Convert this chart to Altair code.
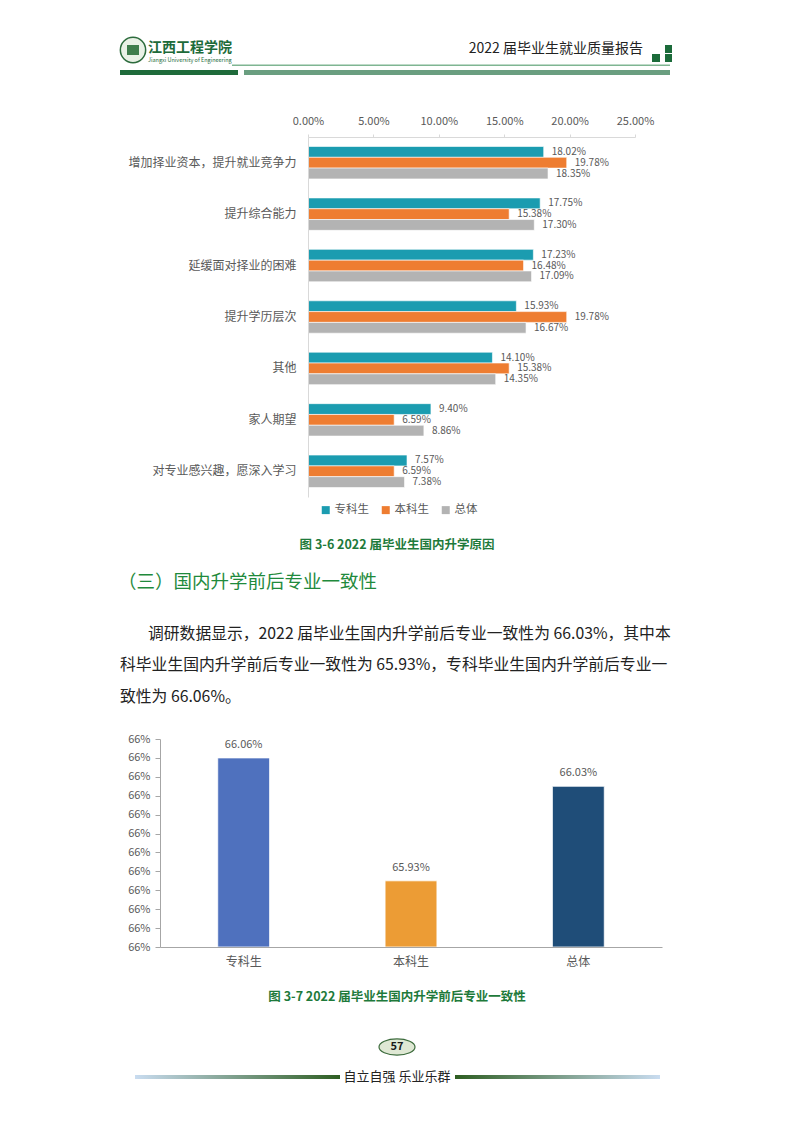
import altair as alt
import pandas as pd

FONT = "Noto Sans CJK SC"

# ---------------- data ----------------
reasons = ["增加择业资本，提升就业竞争力", "提升综合能力", "延缓面对择业的困难",
           "提升学历层次", "其他", "家人期望", "对专业感兴趣，愿深入学习"]
series = ["专科生", "本科生", "总体"]
zk_values = [18.02, 17.75, 17.23, 15.93, 14.10, 9.40, 7.57]
bk_values = [19.78, 15.38, 16.48, 19.78, 15.38, 6.59, 6.59]
zt_values = [18.35, 17.30, 17.09, 16.67, 14.35, 8.86, 7.38]
series_colors = ["#1b9cb0", "#ee7d31", "#b3b3b3"]
x_ticks = [0, 5, 10, 15, 20, 25]

groups = ["专科生", "本科生", "总体"]
consistency = [66.06, 65.93, 66.03]
group_colors = ["#4f71be", "#ec9c35", "#1f4d78"]
y_ticks = [65.86, 65.88, 65.90, 65.92, 65.94, 65.96, 65.98, 66.00, 66.02, 66.04, 66.06, 66.08]

rows = []
for vals, s in zip([zk_values, bk_values, zt_values], series):
    for r, v in zip(reasons, vals):
        rows.append({"reason": r, "series": s, "value": v})
df_reason = pd.DataFrame(rows)
df_cons = pd.DataFrame({"group": groups, "value": consistency})

one = pd.DataFrame({"k": [0]})
W, H = 777, 1106   # whole page minus the 8px margin; page coordinate = local + 8


def label(text, x, y, size, color, weight="normal", align="left", baseline="middle"):
    return alt.Chart(one).mark_text(
        text=text, fontSize=size, color=color, fontWeight=weight,
        align=align, baseline=baseline, font=FONT
    ).encode(x=alt.value(x), y=alt.value(y))


def box(x0, x1, y0, y1, color):
    return alt.Chart(one).mark_rect(color=color).encode(
        x=alt.value(x0), x2=alt.value(x1), y=alt.value(y0), y2=alt.value(y1))


# ---------------- header ----------------
header = [
    alt.Chart(one).mark_point(shape="circle", filled=True, fill="#e9f1e6", stroke="#2c6b3c",
                              strokeWidth=1.5, size=640, opacity=1).encode(
        x=alt.value(125), y=alt.value(42)),
    box(119, 131, 37, 47, "#3f7d4c"),
    label("江西工程学院", 140, 40, 14, "#1d6b3a", weight="bold"),
    label("Jiangxi University of Engineering", 140, 52, 5.5, "#1d6b3a"),
    label("2022 届毕业生就业质量报告", 635, 41, 14, "#222222", align="right"),
    box(657, 664, 37, 45, "#1b6b3a"),
    box(644, 652, 46, 54, "#1b6b3a"),
    box(657, 664, 46, 54, "#1b6b3a"),
    box(224, 662, 56.5, 58, "#7fb592"),
    box(112, 230, 62, 67, "#1f6b3b"),
    box(236, 662, 62, 67, "#6a9e80"),
]

# ---------------- chart 1 : reasons ----------------
X1, X1e, Y1, Y1e = 300, 627, 129, 489
base1 = alt.Chart(df_reason).encode(
    y=alt.Y("reason:N", sort=reasons,
            scale=alt.Scale(paddingInner=0.37, paddingOuter=0.185, range=[Y1, Y1e]),
            axis=alt.Axis(orient="left", offset=-X1, title=None, ticks=False,
                          domainColor="#d9d9d9", labelPadding=12, zindex=1,
                          labelFontSize=12, labelColor="#595959", labelFont=FONT,
                          labelLimit=300)),
    x=alt.X("value:Q", scale=alt.Scale(domain=[0, 25], range=[X1, X1e]),
            axis=alt.Axis(orient="top", offset=-Y1, values=x_ticks, title=None, grid=False,
                          labelExpr="format(datum.value/100,'.2%')", zindex=1,
                          labelFlush=False, labelOverlap=False,
                          domainColor="#d9d9d9", tickColor="#d9d9d9", tickSize=3,
                          labelPadding=8, labelFontSize=11, labelColor="#595959",
                          labelFont=FONT)),
    yOffset=alt.YOffset("series:N", sort=series),
)
bars1 = base1.mark_bar(stroke="white", strokeWidth=0.6).encode(
    color=alt.Color("series:N", sort=series,
                    scale=alt.Scale(domain=series, range=series_colors),
                    legend=alt.Legend(orient="none", legendX=312, legendY=496,
                                      direction="horizontal", title=None,
                                      symbolType="square", symbolSize=64,
                                      symbolStrokeWidth=0, labelFontSize=11.5,
                                      labelColor="#595959", labelFont=FONT,
                                      columnPadding=11, labelOffset=3)))
text1 = base1.mark_text(align="left", baseline="middle", dx=8, fontSize=10,
                        color="#595959", font=FONT).transform_calculate(
    lbl="format(datum.value/100,'.2%')").encode(text="lbl:N")
chart1 = alt.layer(bars1, text1)

# ---------------- text block ----------------
green = "#1e7a3b"
body = "#222222"
texts = [
    label("图 3-6 2022 届毕业生国内升学原因", 389, 537, 12.5, green, weight="bold", align="center"),
    label("（三）国内升学前后专业一致性", 110, 574, 18.5, "#1f8a3c"),
    label("调研数据显示，2022 届毕业生国内升学前后专业一致性为 66.03%，其中本", 140, 626, 15.8, body),
    label("科毕业生国内升学前后专业一致性为 65.93%，专科毕业生国内升学前后专业一", 112, 657, 15.8, body),
    label("致性为 66.06%。", 112, 689, 15.8, body),
]

# ---------------- chart 3 : consistency ----------------
X3, X3e, Y3, Y3e = 152, 654, 731, 939
base3 = alt.Chart(df_cons).encode(
    x=alt.X("group:N", sort=groups,
            scale=alt.Scale(paddingInner=0.69, paddingOuter=0.345, range=[X3, X3e]),
            axis=alt.Axis(orient="bottom", offset=Y3e - H, title=None, ticks=False,
                          labelAngle=0, domainColor="#a6a6a6", zindex=1,
                          labelPadding=9, labelFontSize=12, labelColor="#595959",
                          labelFont=FONT)),
    y=alt.Y("value:Q", scale=alt.Scale(domain=[65.86, 66.08], zero=False, nice=False,
                                       range=[Y3e, Y3]),
            axis=alt.Axis(orient="left", offset=-X3, title=None, values=y_ticks, grid=False,
                          labelExpr="format(datum.value/100,'.0%')", zindex=1,
                          labelFlush=False, labelOverlap=False,
                          domainColor="#a6a6a6", tickColor="#a6a6a6", tickSize=5,
                          labelPadding=5, labelFontSize=11, labelColor="#595959",
                          labelFont=FONT)),
)
bars3 = base3.mark_bar(stroke="white", strokeWidth=0.8).encode(
    y2=alt.datum(65.86),
    color=alt.Color("group:N", sort=groups,
                    scale=alt.Scale(domain=groups, range=group_colors), legend=None))
text3 = base3.mark_text(baseline="middle", dy=-13, fontSize=11, color="#595959",
                        font=FONT).transform_calculate(
    lbl="format(datum.value/100,'.2%')").encode(text="lbl:N")
chart3 = alt.layer(bars3, text3)

# ---------------- footer ----------------
grad_l = alt.LinearGradient(gradient="linear", x1=0, x2=1, y1=0, y2=0,
                            stops=[alt.GradientStop(color="#c9dcf0", offset=0),
                                   alt.GradientStop(color="#2e5e22", offset=1)])
grad_r = alt.LinearGradient(gradient="linear", x1=0, x2=1, y1=0, y2=0,
                            stops=[alt.GradientStop(color="#2e5e22", offset=0),
                                   alt.GradientStop(color="#c9dcf0", offset=1)])
oval = "M -1 0 A 1 0.45 0 1 1 1 0 A 1 0.45 0 1 1 -1 0 Z"
footer = [
    label("图 3-7 2022 届毕业生国内升学前后专业一致性", 389, 989, 12.5, green, weight="bold", align="center"),
    alt.Chart(one).mark_point(shape=oval, filled=True, fill="#dfe8d4", stroke="#3c6b3c",
                              strokeWidth=1.2, size=1296, opacity=1).encode(
        x=alt.value(389), y=alt.value(1039)),
    label("57", 389, 1039, 11, "#1a1a1a", weight="bold", align="center"),
    alt.Chart(one).mark_rect(fill=grad_l).encode(
        x=alt.value(127), x2=alt.value(332), y=alt.value(1067), y2=alt.value(1071)),
    alt.Chart(one).mark_rect(fill=grad_r).encode(
        x=alt.value(447), x2=alt.value(652), y=alt.value(1067), y2=alt.value(1071)),
    label("自立自强  乐业乐群", 389, 1069, 13, "#222222", align="center"),
]

chart = alt.layer(
    *header, chart1, *texts, chart3, *footer
).resolve_scale(
    x="independent", y="independent", color="independent", yOffset="independent"
).resolve_axis(
    x="independent", y="independent"
).resolve_legend(color="independent").properties(
    width=W, height=H, padding=0, background="white"
).configure_view(stroke=None)

chart.save("out.html", embed_options={"renderer": "svg", "actions": False})
